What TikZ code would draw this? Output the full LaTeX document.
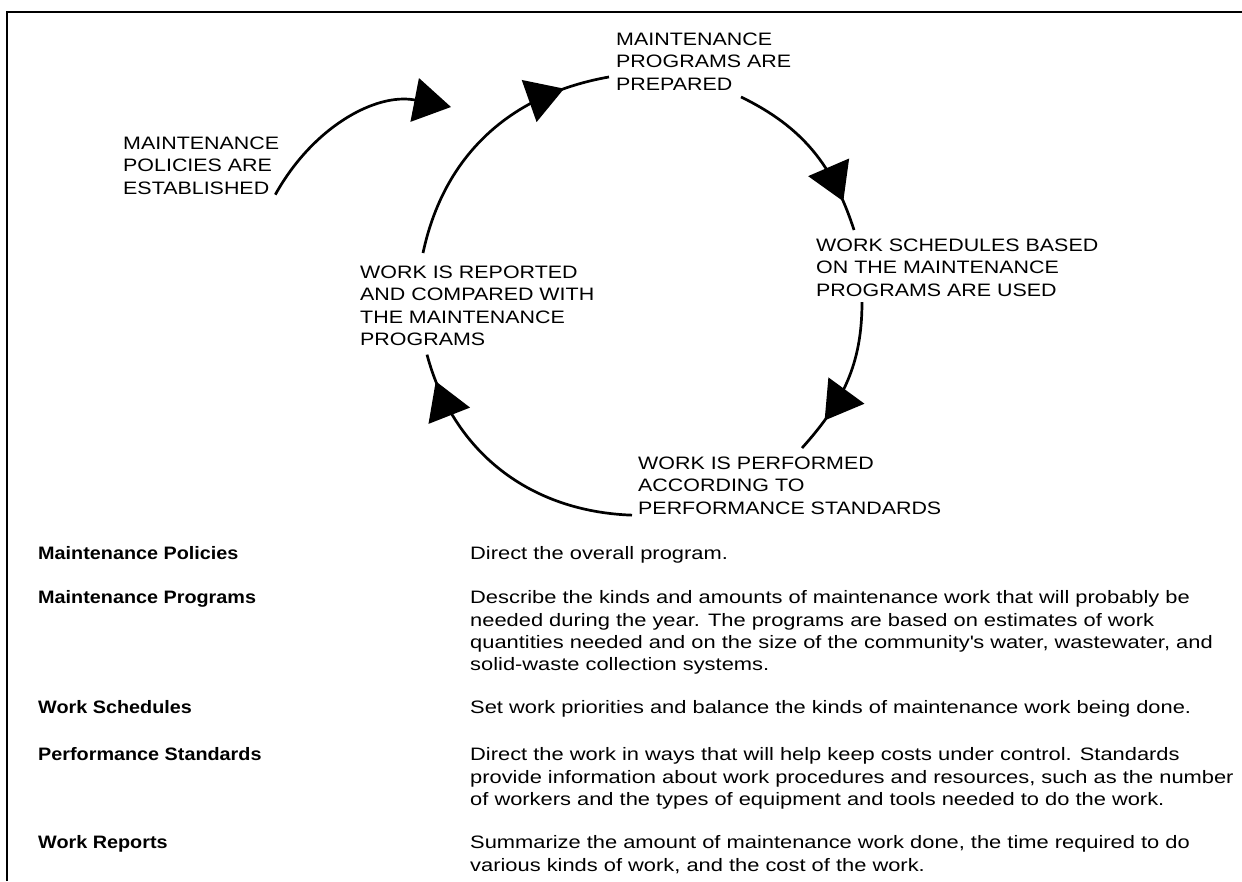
\documentclass[tikz,border=0pt]{standalone}
\usepackage{fontspec}
\setmainfont[FakeStretch=1.19]{Liberation Sans}
\newfontfamily\headfont[FakeStretch=1.1]{Liberation Sans}
\newfontfamily\descfont[FakeStretch=1.215]{Liberation Sans}
\usetikzlibrary{arrows.meta,decorations.markings}

\begin{document}
\begin{tikzpicture}[
    x=1pt, y=1pt,
    font=\fontsize{18}{22.5}\selectfont,
    phase/.style={
        anchor=north west,
        inner sep=0pt,
        align=left
    },
    head/.style={
        anchor=north west,
        inner sep=0pt,
        font=\fontsize{18}{22.5}\selectfont\headfont\bfseries
    },
    desc/.style={
        anchor=north west,
        inner sep=0pt,
        align=left,
        font=\fontsize{18}{22.4}\selectfont\descfont
    },
    flow/.style={line width=2.7pt},
    headat/.style={
        postaction={decorate},
        decoration={markings,
            mark=at position #1 with {\arrow{Triangle[length=37pt,width=44pt]}}}
    },
    frame/.style={line width=2pt}
]
\useasboundingbox (0,0) rectangle (1242,-881);

% frame
\draw[frame] (7,-881) -- (7,-12) -- (1242,-12);

% cycle labels
\node[phase] (policies) at (123,-136.5)
{MAINTENANCE\\ POLICIES ARE\\ ESTABLISHED};

\node[phase] (programs) at (616,-32.5)
{MAINTENANCE\\ PROGRAMS ARE\\ PREPARED};

\node[phase] (schedules) at (816,-238.5)
{WORK SCHEDULES BASED\\ ON THE MAINTENANCE\\ PROGRAMS ARE USED};

\node[phase] (reported) at (360,-265.5)
{WORK IS REPORTED\\ AND COMPARED WITH\\ THE MAINTENANCE\\ PROGRAMS};

\node[phase] (performed) at (638,-456.5)
{WORK IS PERFORMED\\ ACCORDING TO\\ PERFORMANCE STANDARDS};

% arcs
\coordinate (polend) at (451,-107);
\draw[flow, -{Triangle[length=37pt,width=44pt]}]
    ([xshift=-4pt]policies.south east) to[out=61, in=169] (polend);

\draw[flow, headat=0.83]
    ([shift={(63,12.5)}]reported.north west) to[out=78, in=190]
    ([shift={(-7,13.5)}]programs.south west);
\draw[flow, headat=0.83]
    ([shift={(125,-6.5)}]programs.south west) to[out=-26, in=108]
    ([shift={(38,8.5)}]schedules.north west);
\draw[flow, headat=0.78]
    ([shift={(46,-5.5)}]schedules.south west) to[out=-90, in=48]
    ([shift={(164,8.5)}]performed.north west);
\draw[flow, headat=0.90]
    ([shift={(-6,-0.5)}]performed.south west) to[out=178, in=-75]
    ([shift={(67,-8.5)}]reported.south west);

% table
\node[head] (h1) at (38,-546.5) {Maintenance Policies};
\node[head] (h2) at (38,-590.5) {Maintenance Programs};
\node[head] (h3) at (38,-700.5) {Work Schedules};
\node[head] (h4) at (38,-747.5) {Performance Standards};
\node[head] (h5) at (38,-835.5) {Work Reports};

\node[desc] (d1) at (470,-546.5) {Direct the overall program.};
\node[desc] (d2) at (470,-590.5)
{Describe the kinds and amounts of maintenance work that will probably be\\
needed during the year.  The programs are based on estimates of work\\
quantities needed and on the size of the community\textquotesingle s water, wastewater, and\\
solid-waste collection systems.};
\node[desc] (d3) at (470,-700.5)
{Set work priorities and balance the kinds of maintenance work being done.};
\node[desc] (d4) at (470,-747.5)
{Direct the work in ways that will help keep costs under control.  Standards\\
provide information about work procedures and resources, such as the number\\
of workers and the types of equipment and tools needed to do the work.};
\node[desc] (d5) at (470,-835.5)
{Summarize the amount of maintenance work done, the time required to do\\
various kinds of work, and the cost of the work.};

\end{tikzpicture}
\end{document}
